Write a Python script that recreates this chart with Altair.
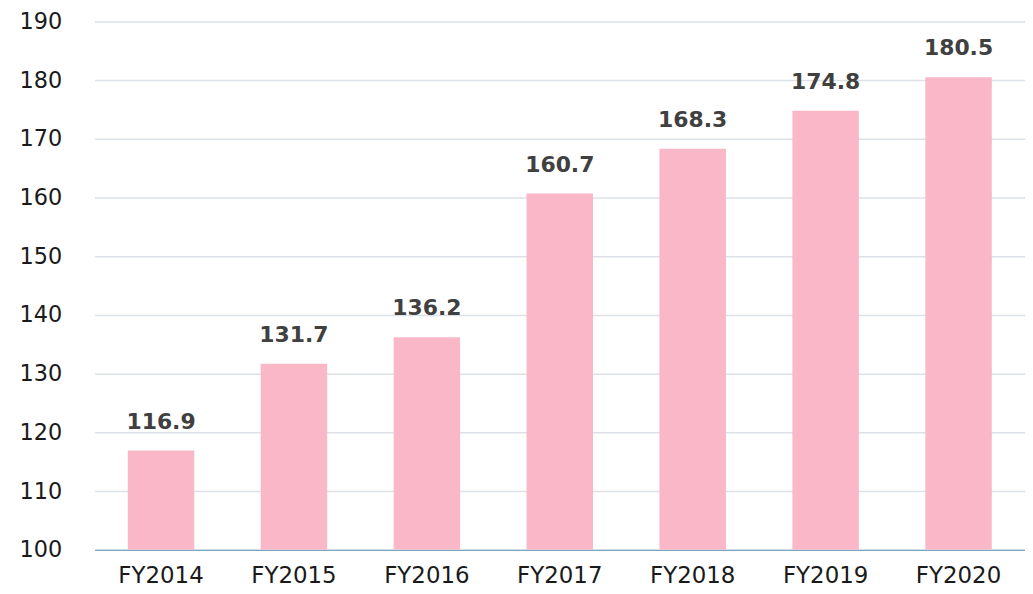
import altair as alt
import pandas as pd

years = ["FY2014", "FY2015", "FY2016", "FY2017", "FY2018", "FY2019", "FY2020"]
values = [116.9, 131.7, 136.2, 160.7, 168.3, 174.8, 180.5]
labels = ["116.9", "131.7", "136.2", "160.7", "168.3", "174.8", "180.5"]

df = pd.DataFrame({"year": years, "value": values, "label": labels})

x = alt.X("year:N", sort=years, title=None,
          scale=alt.Scale(paddingInner=0.5, paddingOuter=0.25),
          axis=alt.Axis(labelAngle=0, labelFont="DejaVu Sans", labelFontSize=23,
                        labelColor="#1a1a1a", ticks=False, domainColor="#7FA6BD",
                        domainWidth=1.2, labelPadding=15, grid=False))
y = alt.Y("value:Q", title=None,
          scale=alt.Scale(domain=[100, 190], zero=False, nice=False),
          axis=alt.Axis(values=list(range(100, 200, 10)), labelFont="DejaVu Sans",
                        labelFontSize=22.5, labelColor="#1a1a1a", ticks=False, domain=False,
                        gridColor="#DCE1E6", gridWidth=1.5, labelPadding=33))

bars = alt.Chart(df).mark_bar(color="#F9B7C8", clip=True).encode(x=x, y=y, y2=alt.datum(100))
text = alt.Chart(df).mark_text(font="DejaVu Sans", fontWeight="bold", fontSize=22,
                               color="#404040", baseline="bottom", dy=-17).encode(
    x=alt.X("year:N", sort=years), y="value:Q", text="label:N")

chart = (bars + text).properties(
    width=935, height=531,
    autosize=alt.AutoSizeParams(type="none"),
    padding={"left": 87, "top": 12, "right": 0, "bottom": 50},
).configure_view(stroke=None)

chart.save("out.html", embed_options={"renderer": "svg", "actions": False})
